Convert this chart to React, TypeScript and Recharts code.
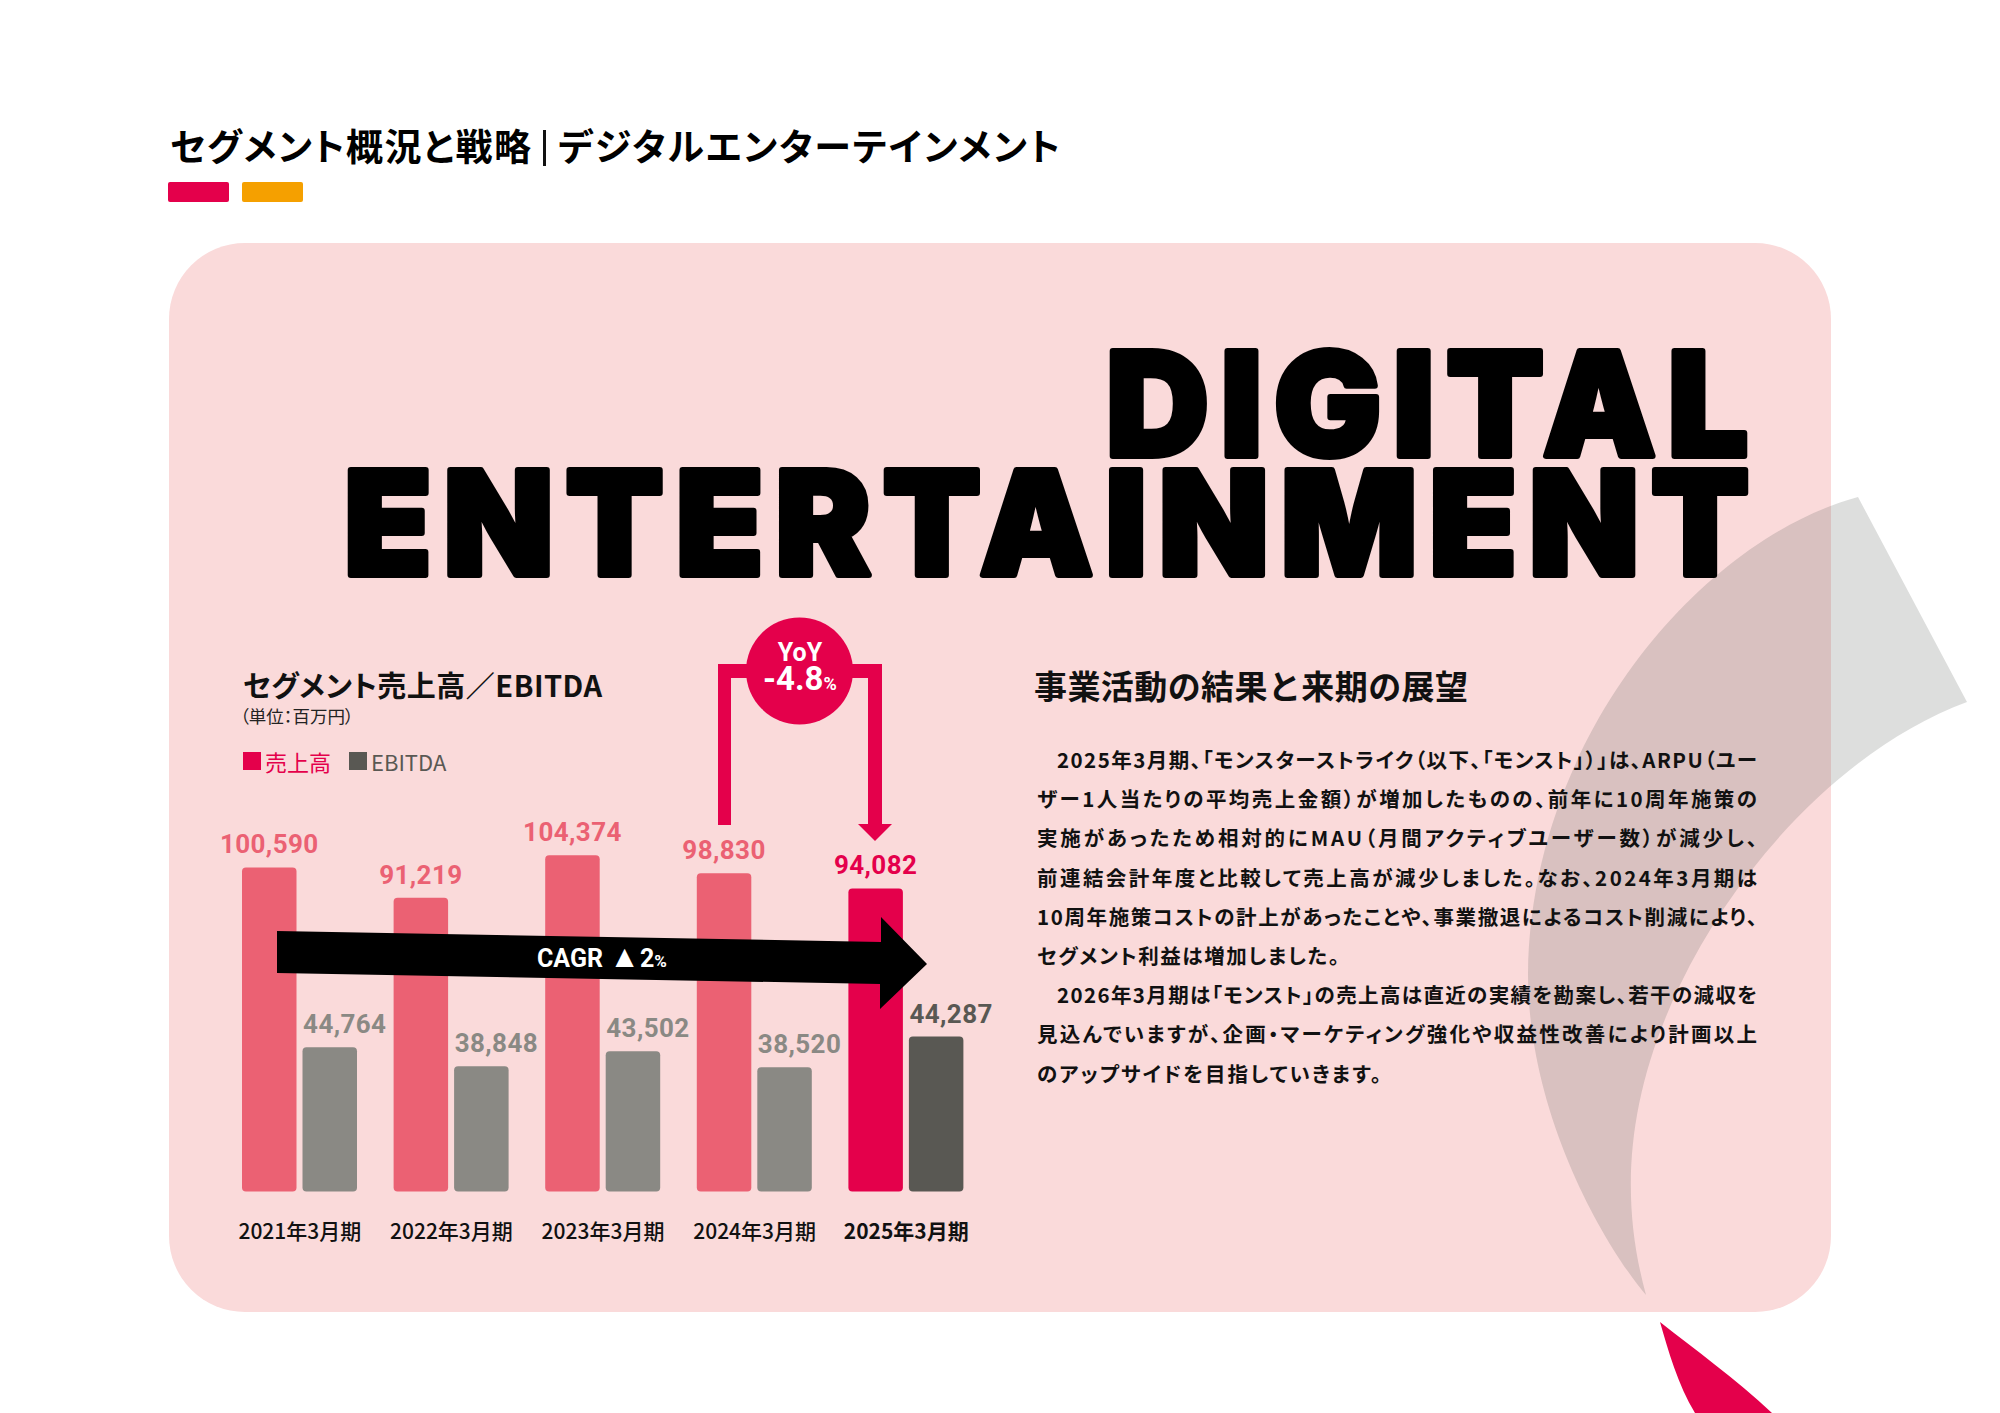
// Digital Entertainment segment slide: revenue / EBITDA bars with commentary
import { BarChart, Bar, XAxis, YAxis, Cell, LabelList } from "recharts";

const periods = ["2021年3月期", "2022年3月期", "2023年3月期", "2024年3月期", "2025年3月期"];
const revenue = [100590, 91219, 104374, 98830, 94082];
// printed figures
const ebitda = [44764, 38848, 43502, 38520, 44287];
// bar heights as drawn on the slide: the last bar stands taller than its printed figure
const ebitdaDrawn = [44764, 38848, 43502, 38520, 48100];

const legendItems = [
  { label: "売上高", color: "#E4004B" },
  { label: "EBITDA", color: "#595853" },
];

const bodyLines = [
  "2025年3月期、「モンスターストライク（以下、「モンスト」）」は、ARPU（ユー",
  "ザー1人当たりの平均売上金額）が増加したものの、前年に10周年施策の",
  "実施があったため相対的にMAU（月間アクティブユーザー数）が減少し、",
  "前連結会計年度と比較して売上高が減少しました。なお、2024年3月期は",
  "10周年施策コストの計上があったことや、事業撤退によるコスト削減により、",
  "セグメント利益は増加しました。",
  "2026年3月期は「モンスト」の売上高は直近の実績を勘案し、若干の減収を",
  "見込んでいますが、企画・マーケティング強化や収益性改善により計画以上",
  "のアップサイドを目指していきます。",
];
const bodyStarts = [1057, 1037, 1037, 1037, 1037, 1037, 1057, 1037, 1037];
const bodyWidths = [700, 720, 720, 720, 720, 302, 700, 720, 344];

const data = periods.map((period, i) => ({
  period,
  revenue: revenue[i],
  ebitda: ebitdaDrawn[i],
  ebitdaLabel: ebitda[i],
}));

const JP = '"Noto Sans CJK JP", "Noto Sans", sans-serif';
const NUM = 'Roboto, "Liberation Sans", sans-serif';
const RED = "#E4004B";
const RED_SOFT = "#EB6173";
const GREY = "#595853";
const GREY_SOFT = "#8A8984";

const makeLabel = (soft: string, strong: string, dx: number) => (props: any) => {
  const { x, y, width, value, index } = props;
  return (
    <text
      x={x + width / 2 + dx}
      y={y - 14}
      textAnchor="middle"
      fontFamily={NUM}
      fontWeight={700}
      fontSize={26}
      letterSpacing={0.4}
      fill={index === 4 ? strong : soft}
    >
      {value.toLocaleString("en-US")}
    </text>
  );
};

const PeriodTick = (props: any) => {
  const { x, y, payload, index } = props;
  return (
    <text
      x={x}
      y={y}
      textAnchor="middle"
      fontFamily={JP}
      fontWeight={index === 4 ? 700 : 500}
      fontSize={21}
      fill="#111"
    >
      {payload.value}
    </text>
  );
};

export default function App() {
  return (
    <div style={{ position: "absolute", left: 0, top: 0, width: 2000, height: 1413, background: "#fff", overflow: "hidden" }}>
      <svg width={2000} height={1413} style={{ position: "absolute", left: 0, top: 0 }}>
        <text
          x={170}
          y={161}
          fontFamily={JP}
          fontWeight={700}
          fontSize={37}
          textLength={361}
          lengthAdjust="spacing"
          style={{ fontFeatureSettings: '"palt"' }}
        >
          セグメント概況と戦略
        </text>
        <rect x={543} y={130} width={3} height={36} fill="#111" />
        <text
          x={558}
          y={161}
          fontFamily={JP}
          fontWeight={700}
          fontSize={37}
          textLength={502}
          lengthAdjust="spacing"
          style={{ fontFeatureSettings: '"palt"' }}
        >
          デジタルエンターテインメント
        </text>
        <rect x={168} y={182} width={61} height={20} rx={2} fill={RED} />
        <rect x={242} y={182} width={61} height={20} rx={2} fill="#F5A000" />

        <rect x={169} y={243} width={1662} height={1069} rx={76} fill="#FADADA" />

        <path
          d="M1858 497 C1700 540 1530 740 1528 974 C1528 1110 1600 1240 1646 1295 C1620 1200 1625 1100 1680 985 C1740 860 1850 745 1967 702 Z"
          fill="#5F6560"
          opacity={0.21}
        />
        <path d="M1660 1322 C1695 1350 1735 1378 1772 1413 L1695 1413 C1678 1385 1668 1350 1660 1322 Z" fill={RED} />

        <text
          x={1106}
          y={456}
          fontFamily="Inter"
          fontWeight={900}
          fontSize={144}
          letterSpacing={12}
          textLength={654}
          lengthAdjust="spacingAndGlyphs"
          stroke="#000"
          strokeWidth={6}
          strokeLinejoin="round"
        >
          DIGITAL
        </text>
        <text
          x={344}
          y={575}
          fontFamily="Inter"
          fontWeight={900}
          fontSize={144}
          letterSpacing={12}
          textLength={1417}
          lengthAdjust="spacingAndGlyphs"
          stroke="#000"
          strokeWidth={6}
          strokeLinejoin="round"
        >
          ENTERTAINMENT
        </text>

        <text
          x={243}
          y={697}
          fontFamily={JP}
          fontWeight={700}
          fontSize={29}
          textLength={359}
          lengthAdjust="spacing"
          fill="#111"
          style={{ fontFeatureSettings: '"palt"' }}
        >
          セグメント売上高／EBITDA
        </text>
        <text x={240} y={723} fontFamily={JP} fontSize={17.5} fill="#222" style={{ fontFeatureSettings: '"palt"' }}>
          （単位：百万円）
        </text>

        <text
          x={1034}
          y={699}
          fontFamily={JP}
          fontWeight={700}
          fontSize={33}
          textLength={434}
          lengthAdjust="spacing"
          fill="#111"
        >
          事業活動の結果と来期の展望
        </text>
        {bodyLines.map((line, i) => (
          <text
            key={i}
            x={bodyStarts[i]}
            y={768 + i * 39.2}
            fontFamily={JP}
            fontWeight={700}
            fontSize={20.5}
            textLength={bodyWidths[i]}
            lengthAdjust="spacing"
            fill="#111"
            style={{ fontFeatureSettings: '"palt"' }}
          >
            {line}
          </text>
        ))}
      </svg>

      <div style={{ position: "absolute", left: 243, top: 749, display: "flex", alignItems: "center", fontFamily: JP, fontSize: 22, lineHeight: "24px" }}>
        {legendItems.map((item, i) => (
          <span key={item.label} style={{ display: "flex", alignItems: "center", color: item.color, marginRight: i === 0 ? 18 : 0 }}>
            <span style={{ width: 18, height: 18, background: item.color, marginRight: 4 }} />
            {item.label}
          </span>
        ))}
      </div>

      <div style={{ position: "absolute", left: 183.7, top: 744.6 }}>
        <BarChart
          width={838}
          height={506.4}
          data={data}
          margin={{ top: 60, right: 40, bottom: 0, left: 40 }}
          barSize={54.5}
          barGap={6}
        >
          <XAxis dataKey="period" height={60} axisLine={false} tickLine={false} tick={<PeriodTick />} tickMargin={42} interval={0} />
          <YAxis hide domain={[0, 120000]} />
          <Bar dataKey="revenue" radius={4} fill={RED} isAnimationActive={false}>
            {data.map((d, i) => (
              <Cell key={d.period} fill={i === 4 ? RED : RED_SOFT} />
            ))}
            <LabelList dataKey="revenue" content={makeLabel(RED_SOFT, RED, 0)} />
          </Bar>
          <Bar dataKey="ebitda" radius={4} fill={GREY} isAnimationActive={false}>
            {data.map((d, i) => (
              <Cell key={d.period} fill={i === 4 ? GREY : GREY_SOFT} />
            ))}
            <LabelList dataKey="ebitdaLabel" content={makeLabel(GREY_SOFT, GREY, 15)} />
          </Bar>
        </BarChart>
      </div>

      <svg width={2000} height={1413} style={{ position: "absolute", left: 0, top: 0, pointerEvents: "none" }}>
        <path d="M277 931 L881 942 L881 917 L927 964 L880 1009 L880 984 L277 973 Z" fill="#000" />
        <text x={537} y={967} fontFamily={NUM} fontWeight={700} fontSize={25} fill="#fff">
          CAGR <tspan fontSize={31}>▲</tspan>2
          <tspan fontSize={17}>%</tspan>
        </text>

        <path d="M718 825 L718 664 L882 664 L882 824 L892 824 L875 841 L858 824 L868 824 L868 678 L731 678 L731 825 Z" fill={RED} />
        <circle cx={799.5} cy={671} r={53.5} fill={RED} />
        <text x={800} y={661} textAnchor="middle" fontFamily={NUM} fontWeight={700} fontSize={25} fill="#fff">
          YoY
        </text>
        <text x={800} y={690} textAnchor="middle" fontFamily={NUM} fontWeight={700} fontSize={33} fill="#fff">
          -4.8
          <tspan fontSize={18}>%</tspan>
        </text>
      </svg>
    </div>
  );
}
